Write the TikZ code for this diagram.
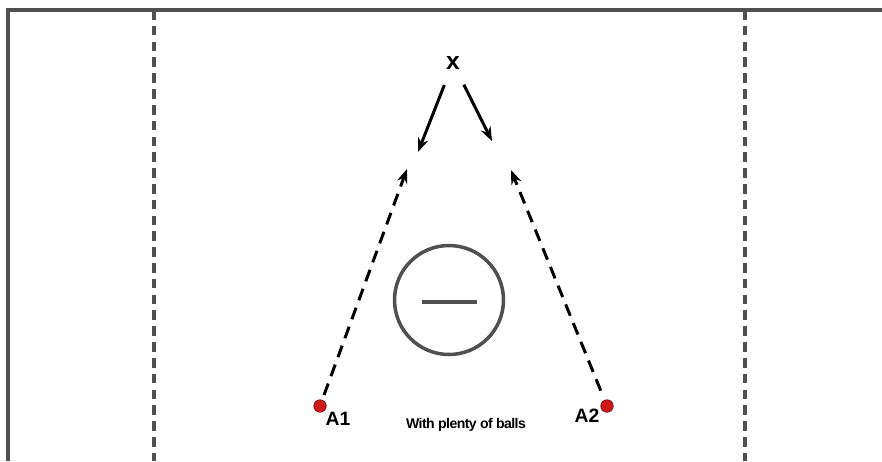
\documentclass[tikz,border=0pt]{standalone}
\usepackage{fontspec}
\setmainfont{Liberation Sans}
\usetikzlibrary{arrows.meta, positioning}

\definecolor{framegray}{RGB}{80,80,80}
\definecolor{balldot}{RGB}{205,25,25}

\begin{document}
\begin{tikzpicture}[
    x=0.02cm, y=-0.02cm,
    every node/.style={font=\bfseries},
    fieldline/.style={framegray, line width=2pt},
    zoneline/.style={framegray, line width=1.9pt, dash pattern=on 5.5pt off 3.5pt},
    player/.style={
        circle,
        fill=balldot,
        draw=balldot!60!black,
        line width=0.4pt,
        minimum size=0.25cm,
        inner sep=0pt
    },
    cone/.style={
        circle,
        draw=framegray,
        line width=2pt,
        minimum size=2.18cm,
        inner sep=0pt
    },
    arrow/.style={line width=1.7pt, -{Stealth[length=8pt,width=6pt]}},
    runarrow/.style={arrow, dash pattern=on 7pt off 4.5pt}
]

\useasboundingbox (0,0) rectangle (882,461);

% Field
\draw[fieldline] (8,461) -- (8,10) -- (882,10);
\draw[zoneline] (154,10) -- (154,461);
\draw[zoneline] (745,10) -- (745,461);

\node (server) at (453,63) {\fontsize{14}{14}\selectfont x};

\node (goal) [cone] at (449,300) {};
\draw[framegray, line width=2pt] ([xshift=-0.54cm,yshift=-0.04cm]goal.center) -- ([xshift=0.56cm,yshift=-0.04cm]goal.center);

\node (a1) [player] at (320,406) {};
\node (a2) [player] at (607,406) {};

\node (a1label) at (338,419) {\fontsize{11}{11}\selectfont A1};
\node (a2label) at (587,416) {\fontsize{11}{11}\selectfont A2};
\node (note) at (466,425) {\fontsize{8}{8}\selectfont\addfontfeature{LetterSpace=-4}With plenty of balls};

\coordinate (leftin)  at (418,152);
\coordinate (rightin) at (492,141);
\coordinate (leftrun)  at (407,169);
\coordinate (rightrun) at (511,170);

% Arrows
\draw[arrow, shorten <=0.2cm] (server) -- (leftin);
\draw[arrow, shorten <=0.2cm] (server) -- (rightin);
\draw[runarrow, shorten <=0.1cm] (a1) -- (leftrun);
\draw[runarrow, shorten <=0.2cm] (a2) -- (rightrun);

\end{tikzpicture}
\end{document}
